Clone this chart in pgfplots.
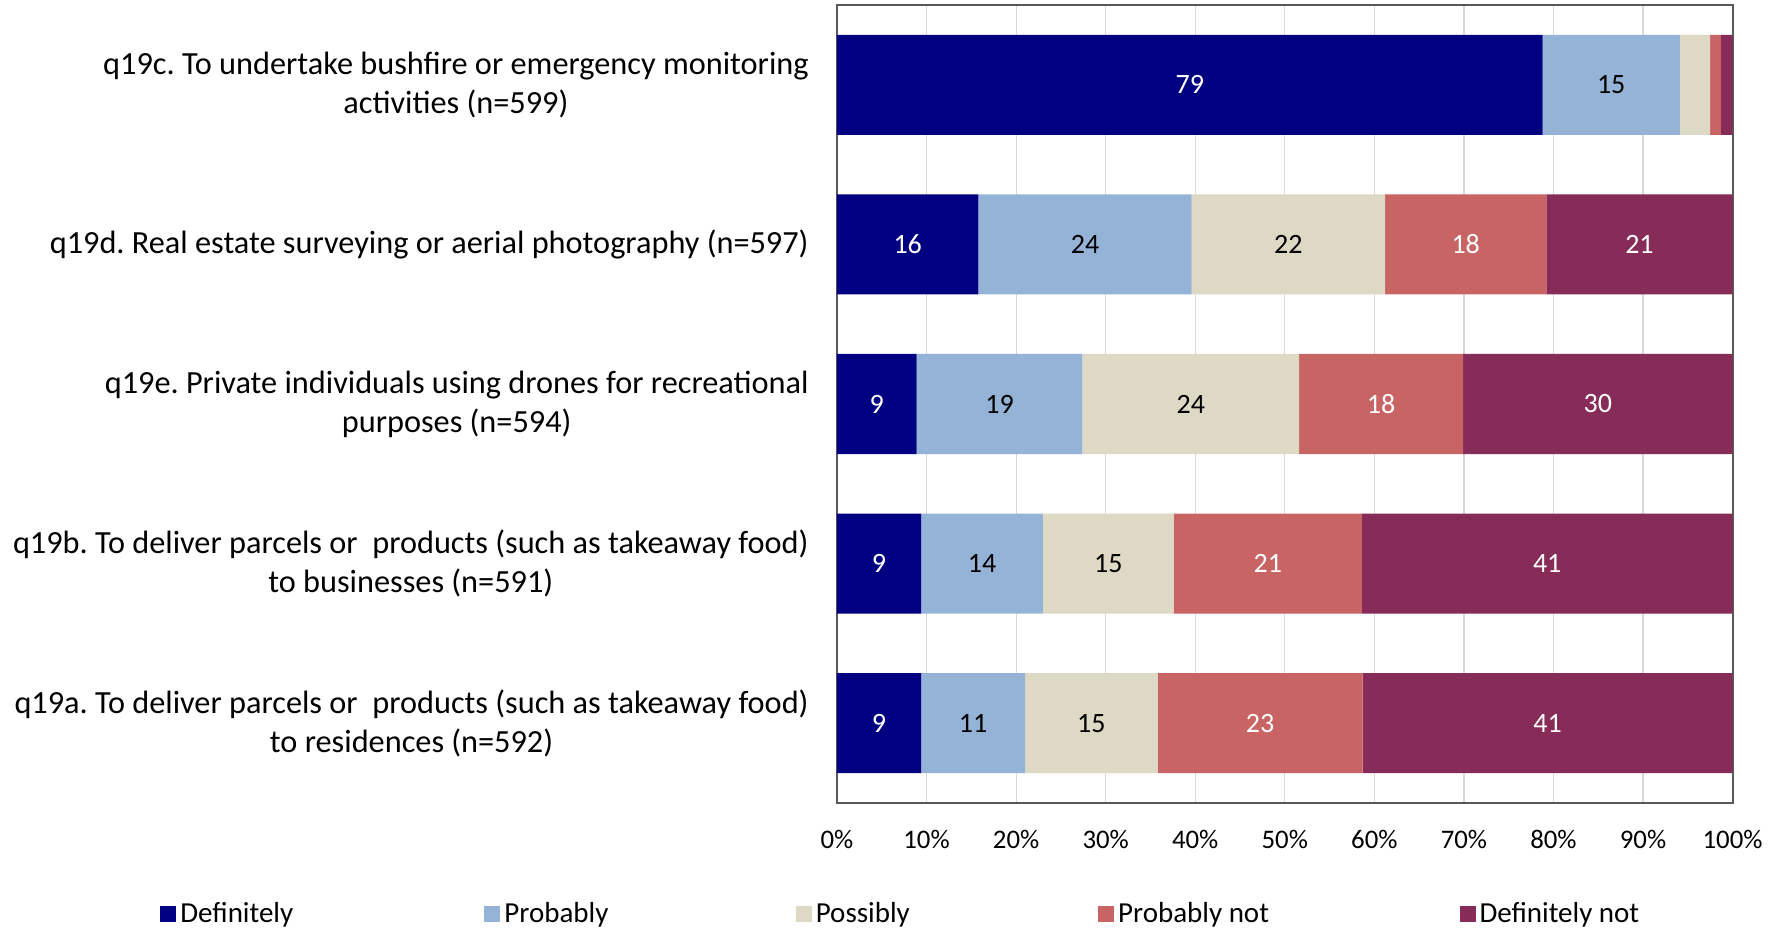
\documentclass[border=0pt]{standalone}
\usepackage{fontspec}
\setmainfont{Carlito}
\usepackage{pgfplots}
\pgfplotsset{compat=1.18}
\frenchspacing
\definecolor{cDef}{HTML}{000080}
\definecolor{cProb}{HTML}{95B3D7}
\definecolor{cPoss}{HTML}{DDD9C4}
\definecolor{cPnot}{HTML}{C96464}
\definecolor{cDnot}{HTML}{872B59}
\definecolor{gridc}{HTML}{D9D9D9}
\definecolor{axc}{HTML}{595959}
\begin{document}
\begin{tikzpicture}
\begin{axis}[
  xbar stacked,
  scale only axis,
  width=447.8pt, height=399pt,
  xmin=0, xmax=100, ymin=-0.5, ymax=4.5,
  bar width=0.627,
  xtick={0,10,...,100},
  xticklabel={\pgfmathprintnumber{\tick}\%},
  /pgf/number format/assume math mode=true,
  ytick={0,1,2,3,4},
  yticklabels={
    {q19a. To deliver parcels or~ products (such as takeaway food)\\to residences (n=592)},
    {q19b. To deliver parcels or~ products (such as takeaway food)\\to businesses (n=591)},
    {q19e. Private individuals using drones for recreational\\purposes (n=594)},
    {q19d. Real estate surveying or aerial photography (n=597)},
    {q19c. To undertake bushfire or emergency monitoring\\activities (n=599)}},
  yticklabel style={align=center, font=\fontsize{16.15}{19.4}\selectfont, inner sep=0pt, xshift=-14pt},
  xticklabel style={font=\fontsize{13.4}{16}\selectfont, inner sep=0pt, yshift=-13.4pt},
  major tick length=0pt,
  xmajorgrids,
  grid style={gridc, line width=0.6pt},
  axis line style={axc, line width=1pt},
  point meta=explicit symbolic,
  nodes near coords,
  every node near coord/.append style={anchor=center, font=\fontsize{14}{16}\selectfont},
  legend columns=5,
  legend image code/.code={\path[#1, draw=none] (0pt,-4pt) rectangle (8pt,4pt);},
  legend style={draw=none, fill=none, inner sep=0pt, font=\fontsize{14.5}{17}\selectfont,
     at={(axis description cs:-0.7559,-0.1391)}, anchor=west,
     /tikz/every even column/.append style={column sep=0pt}},
]
\addplot[fill=cDef, draw=none, every node near coord/.append style={text=white}] coordinates {
  (9.4,0) [9] (9.4,1) [9] (8.9,2) [9] (15.8,3) [16] (78.8,4) [79]};
\addlegendentry{\makebox[150pt][l]{Definitely}}
\addplot[fill=cProb, draw=none, every node near coord/.append style={text=black}] coordinates {
  (11.6,0) [11] (13.6,1) [14] (18.5,2) [19] (23.8,3) [24] (15.3,4) [15]};
\addlegendentry{\makebox[143.7pt][l]{Probably}}
\addplot[fill=cPoss, draw=none, every node near coord/.append style={text=black}] coordinates {
  (14.8,0) [15] (14.6,1) [15] (24.2,2) [24] (21.6,3) [22] (3.4,4) [{}]};
\addlegendentry{\makebox[139.2pt][l]{Possibly}}
\addplot[fill=cPnot, draw=none, every node near coord/.append style={text=white}] coordinates {
  (22.9,0) [23] (21.0,1) [21] (18.3,2) [18] (18.0,3) [18] (1.2,4) [{}]};
\addlegendentry{\makebox[168.7pt][l]{Probably not}}
\addplot[fill=cDnot, draw=none, every node near coord/.append style={text=white}] coordinates {
  (41.3,0) [41] (41.4,1) [41] (30.1,2) [30] (20.8,3) [21] (1.3,4) [{}]};
\addlegendentry{Definitely not}
\coordinate (SW) at (axis description cs:0,0);
\end{axis}
\pgfresetboundingbox
\useasboundingbox (SW) ++(-418.5pt,-62.5pt) rectangle ++(891.5pt,464pt);
\end{tikzpicture}
\end{document}
